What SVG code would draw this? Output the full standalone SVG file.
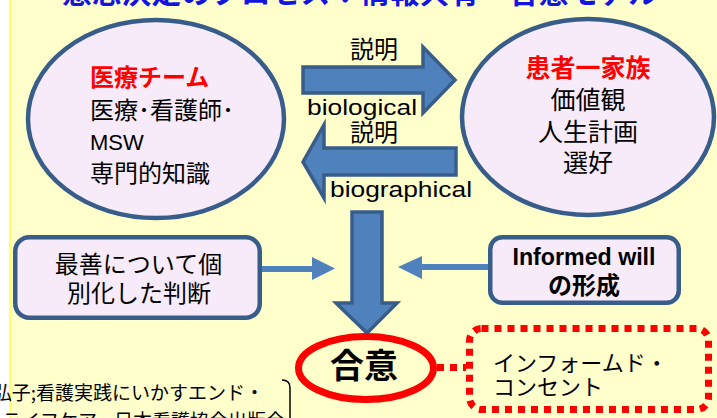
<svg xmlns="http://www.w3.org/2000/svg" width="717" height="418" viewBox="0 0 717 418">
<style>
.jp{font-family:"Noto Sans CJK JP","Liberation Sans",sans-serif;}
.lat{font-family:"Liberation Sans","Noto Sans CJK JP",sans-serif;}
.node{fill:#F7EBF9;stroke:#385D8A;stroke-width:4.5;}
.blk{fill:#000;}
.red{fill:#FF0000;font-weight:bold;}
.barrow{fill:#4F81BD;stroke:#385D8A;stroke-width:3.5;stroke-linejoin:miter;}
.thin{stroke:#4F81BD;stroke-width:6;fill:none;}
.thinhead{fill:#4F81BD;}
.dots{fill:none;stroke:#FF0000;stroke-width:7;stroke-dasharray:7 6;}
</style>
<rect x="0" y="0" width="717" height="418" fill="#FFFFFF"/>
<rect x="10" y="0" width="707" height="418" fill="#FFFFCC"/>
<line x1="10" y1="0" x2="10" y2="418" stroke="#FFFF66" stroke-width="2"/>

<g id="title">
<text class="jp" x="62" y="3" font-size="30" font-weight="bold" fill="#1414E0" textLength="596" lengthAdjust="spacingAndGlyphs">意思決定のプロセス：情報共有－合意モデル</text>
</g>

<g id="connectors">
<path class="barrow" d="M303,67 L423,67 L423,47 L455,80 L423,113 L423,93 L303,93 Z"/>
<path class="barrow" d="M456,148 L324,148 L324,125 L303,162 L324,198 L324,175 L456,175 Z"/>
<path class="barrow" d="M352,212 L382,212 L382,303 L397,303 L367,333 L336,303 L352,303 Z"/>
<line class="thin" x1="262" y1="269" x2="314" y2="269"/>
<polygon class="thinhead" points="312,257 335,268.5 312,280"/>
<line class="thin" x1="488" y1="267" x2="420" y2="267"/>
<polygon class="thinhead" points="422,256 398,267 422,279"/>
<line class="dots" x1="437" y1="367.5" x2="466" y2="367.5"/>
<text class="jp blk" x="350" y="58" font-size="24">説明</text>
<text class="lat blk" x="307" y="115" font-size="22" textLength="110" lengthAdjust="spacingAndGlyphs">biological</text>
<text class="jp blk" x="350" y="141" font-size="24">説明</text>
<text class="lat blk" x="330" y="197" font-size="22" textLength="142" lengthAdjust="spacingAndGlyphs">biographical</text>
</g>

<g id="medical-team">
<ellipse class="node" cx="156" cy="119" rx="128" ry="99"/>
<text class="jp red" x="90" y="86" font-size="24">医療チーム</text>
<text class="jp blk" x="90" y="119" font-size="24">医療･看護師･</text>
<text class="lat blk" x="90" y="150" font-size="22">MSW</text>
<text class="jp blk" x="90" y="182" font-size="24">専門的知識</text>
</g>

<g id="patient-family">
<ellipse class="node" cx="588" cy="117" rx="126" ry="98"/>
<text class="jp red" x="588" y="77" font-size="25" text-anchor="middle">患者一家族</text>
<text class="jp blk" x="588" y="109" font-size="25" text-anchor="middle">価値観</text>
<text class="jp blk" x="588" y="141" font-size="25" text-anchor="middle">人生計画</text>
<text class="jp blk" x="588" y="172" font-size="25" text-anchor="middle">選好</text>
</g>

<g id="best-judgement">
<rect class="node" x="15.25" y="237.25" width="244.5" height="80.5" rx="14"/>
<text class="jp blk" x="138.5" y="273" font-size="24" text-anchor="middle">最善について個</text>
<text class="jp blk" x="139" y="302" font-size="24" text-anchor="middle">別化した判断</text>
</g>

<g id="informed-will">
<rect class="node" x="490.25" y="237.25" width="188.5" height="65.5" rx="12"/>
<text class="lat blk" x="584" y="265" font-size="23" font-weight="bold" text-anchor="middle" textLength="143" lengthAdjust="spacingAndGlyphs">Informed will</text>
<text class="jp blk" x="584" y="294" font-size="24" font-weight="bold" text-anchor="middle">の形成</text>
</g>

<g id="agreement">
<ellipse cx="366" cy="368" rx="67.5" ry="31.5" fill="none" stroke="#FF0000" stroke-width="7"/>
<text class="jp blk" x="364" y="378" font-size="34" font-weight="bold" text-anchor="middle">合意</text>
</g>

<g id="informed-consent">
<rect class="dots" x="469.5" y="328.5" width="239" height="81" rx="12"/>
<text class="jp blk" x="493" y="371" font-size="22">インフォームド・</text>
<text class="jp blk" x="493" y="395" font-size="22">コンセント</text>
</g>

<g id="citation">
<path d="M282,380 Q290,380 290,388 L290,418" fill="none" stroke="#000" stroke-width="1.5"/>
<text class="jp blk" x="264" y="400" font-size="19" text-anchor="end">長江弘子;看護実践にいかすエンド・</text>
<text class="jp blk" x="285" y="428" font-size="19" text-anchor="end">オブ・ライフケア、日本看護協会出版会</text>
</g>
</svg>
